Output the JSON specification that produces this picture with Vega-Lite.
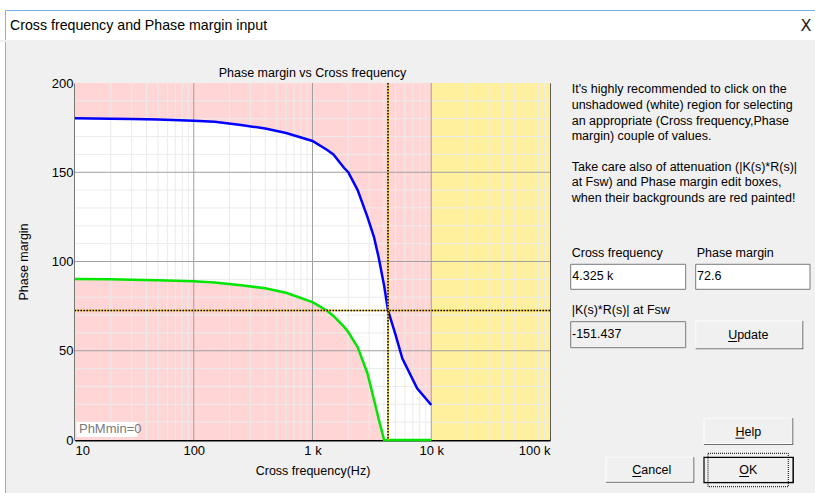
{
  "$schema": "https://vega.github.io/schema/vega-lite/v6.json",
  "background": "#f0f0f0",
  "padding": 0,
  "spacing": 0,
  "config": {
    "view": {"stroke": null},
    "font": "Liberation Sans",
    "text": {"font": "Liberation Sans"}
  },
  "datasets": {
    "curves": [
      {"f": 10, "blue": 180.2, "green": 90.2},
      {"f": 20, "blue": 180.0, "green": 90.0},
      {"f": 30, "blue": 179.8, "green": 89.8},
      {"f": 50, "blue": 179.5, "green": 89.5},
      {"f": 100, "blue": 178.9, "green": 88.9},
      {"f": 150, "blue": 178.3, "green": 88.3},
      {"f": 250, "blue": 176.5, "green": 86.7},
      {"f": 400, "blue": 174.5, "green": 85.0},
      {"f": 600, "blue": 172.0, "green": 82.5},
      {"f": 1000, "blue": 167.5, "green": 77.2},
      {"f": 1330, "blue": 162.5, "green": 72.4},
      {"f": 1500, "blue": 160.0, "green": 69.5},
      {"f": 1840, "blue": 152.5, "green": 63.5},
      {"f": 2000, "blue": 150.0, "green": 60.5},
      {"f": 2400, "blue": 140.0, "green": 52.0},
      {"f": 2900, "blue": 125.0, "green": 37.4},
      {"f": 3300, "blue": 113.5, "green": 22.4},
      {"f": 3600, "blue": 102.5, "green": 12.0},
      {"f": 4010, "blue": 86.5, "green": 0},
      {"f": 4325, "blue": 72.6, "green": 0},
      {"f": 5000, "blue": 59.0, "green": 0},
      {"f": 5700, "blue": 45.8, "green": 0},
      {"f": 7600, "blue": 29.0, "green": 0},
      {"f": 10000, "blue": 19.6, "green": 0}
    ],
    "bands": [
      {"zone": "pink", "x1": 10, "x2": 10000, "y1": 0, "y2": 200},
      {"zone": "yellow", "x1": 10000, "x2": 100000, "y1": 0, "y2": 200}
    ],
    "xgrid": [
      {"v": 20, "kind": "minor"}, {"v": 30, "kind": "minor"}, {"v": 40, "kind": "minor"}, {"v": 50, "kind": "minor"},
      {"v": 60, "kind": "minor"}, {"v": 70, "kind": "minor"}, {"v": 80, "kind": "minor"}, {"v": 90, "kind": "minor"},
      {"v": 200, "kind": "minor"}, {"v": 300, "kind": "minor"}, {"v": 400, "kind": "minor"}, {"v": 500, "kind": "minor"},
      {"v": 600, "kind": "minor"}, {"v": 700, "kind": "minor"}, {"v": 800, "kind": "minor"}, {"v": 900, "kind": "minor"},
      {"v": 2000, "kind": "minor"}, {"v": 3000, "kind": "minor"}, {"v": 4000, "kind": "minor"}, {"v": 5000, "kind": "minor"},
      {"v": 6000, "kind": "minor"}, {"v": 7000, "kind": "minor"}, {"v": 8000, "kind": "minor"}, {"v": 9000, "kind": "minor"},
      {"v": 20000, "kind": "minor"}, {"v": 30000, "kind": "minor"}, {"v": 40000, "kind": "minor"}, {"v": 50000, "kind": "minor"},
      {"v": 60000, "kind": "minor"}, {"v": 70000, "kind": "minor"}, {"v": 80000, "kind": "minor"}, {"v": 90000, "kind": "minor"},
      {"v": 100, "kind": "major"}, {"v": 1000, "kind": "major"}, {"v": 10000, "kind": "major"}
    ],
    "ygrid": [
      {"v": 10, "kind": "minor"}, {"v": 20, "kind": "minor"}, {"v": 30, "kind": "minor"}, {"v": 40, "kind": "minor"},
      {"v": 60, "kind": "minor"}, {"v": 70, "kind": "minor"}, {"v": 80, "kind": "minor"}, {"v": 90, "kind": "minor"},
      {"v": 110, "kind": "minor"}, {"v": 120, "kind": "minor"}, {"v": 130, "kind": "minor"}, {"v": 140, "kind": "minor"},
      {"v": 160, "kind": "minor"}, {"v": 170, "kind": "minor"}, {"v": 180, "kind": "minor"}, {"v": 190, "kind": "minor"},
      {"v": 50, "kind": "major"}, {"v": 100, "kind": "major"}, {"v": 150, "kind": "major"}
    ],
    "cross": [{"f": 4325, "pm": 72.6}],
    "widgets": [
      {"id": "box1", "kind": "edit", "x1": 8.7, "x2": 123.7, "y1": 181.3, "y2": 206.3},
      {"id": "box2", "kind": "edit", "x1": 133.7, "x2": 248, "y1": 181.3, "y2": 206.3},
      {"id": "box3", "kind": "readonly", "x1": 8.7, "x2": 123.7, "y1": 238.7, "y2": 264.7},
      {"id": "update", "kind": "button", "x1": 133.7, "x2": 241.3, "y1": 238, "y2": 266.3},
      {"id": "help", "kind": "button", "x1": 142, "x2": 231.3, "y1": 335.3, "y2": 362},
      {"id": "cancel", "kind": "button", "x1": 44, "x2": 132.3, "y1": 374.3, "y2": 399.7},
      {"id": "ok", "kind": "default", "x1": 142, "x2": 231.3, "y1": 374.3, "y2": 399.7}
    ],
    "underlines": [
      {"u1": 166.2, "u2": 175.2, "row": 258.5},
      {"u1": 173.4, "u2": 182.4, "row": 355.2},
      {"u1": 70.3, "u2": 79.3, "row": 393.5},
      {"u1": 177.3, "u2": 187.0, "row": 393.5}
    ],
    "paneltext": [
      {"t": "It's highly recommended to click on the", "kind": "left", "col": 9.7, "row": 6.3},
      {"t": "unshadowed (white) region for selecting", "kind": "left", "col": 9.7, "row": 22.0},
      {"t": "an appropriate (Cross frequency,Phase", "kind": "left", "col": 9.7, "row": 38.0},
      {"t": "margin) couple of values.", "kind": "left", "col": 9.7, "row": 53.3},
      {"t": "Take care also of attenuation (|K(s)*R(s)|", "kind": "left", "col": 9.7, "row": 83.7},
      {"t": "at Fsw) and Phase margin edit boxes,", "kind": "left", "col": 9.7, "row": 99.0},
      {"t": "when their backgrounds are red painted!", "kind": "left", "col": 9.7, "row": 114.7},
      {"t": "Cross frequency", "kind": "left", "col": 9.7, "row": 170.3},
      {"t": "Phase margin", "kind": "left", "col": 134.7, "row": 170.3},
      {"t": "4.325 k", "kind": "left", "col": 10.3, "row": 192.5},
      {"t": "72.6", "kind": "left", "col": 135.0, "row": 192.5},
      {"t": "|K(s)*R(s)| at Fsw", "kind": "left", "col": 9.7, "row": 227.0},
      {"t": "-151.437", "kind": "left", "col": 10.0, "row": 250.5},
      {"t": "Update", "kind": "center", "col": 186.3, "row": 252.0},
      {"t": "Help", "kind": "center", "col": 186.3, "row": 348.7},
      {"t": "Cancel", "kind": "center", "col": 89.7, "row": 387.0},
      {"t": "OK", "kind": "center", "col": 186.3, "row": 387.0}
    ]
  },
  "vconcat": [
    {
      "width": 815,
      "height": 40,
      "view": {"fill": "#ffffff", "stroke": null},
      "layer": [
        {
          "data": {"values": [{"t": "Cross frequency and Phase margin input", "col": 10, "row": 25.5}]},
          "mark": {"type": "text", "align": "left", "baseline": "middle", "fontSize": 14.2, "color": "#000000"},
          "encoding": {
            "x": {"field": "col", "type": "quantitative", "scale": {"domain": [0, 815], "nice": false, "zero": false}, "axis": null},
            "y": {"field": "row", "type": "quantitative", "scale": {"domain": [0, 40], "nice": false, "zero": false, "reverse": true}, "axis": null},
            "text": {"field": "t"}
          }
        },
        {
          "data": {"values": [{"t": "X", "col": 806, "row": 25.5}]},
          "mark": {"type": "text", "align": "center", "baseline": "middle", "fontSize": 16, "color": "#222222", "font": "DejaVu Sans"},
          "encoding": {
            "x": {"field": "col", "type": "quantitative", "axis": null},
            "y": {"field": "row", "type": "quantitative", "axis": null},
            "text": {"field": "t"}
          }
        },
        {
          "data": {"values": [{"a": 5.5, "b": 815, "r": 10.5}]},
          "mark": {"type": "rule", "color": "#7ab4e6", "strokeWidth": 1},
          "encoding": {
            "x": {"field": "a", "type": "quantitative", "axis": null},
            "x2": {"field": "b"},
            "y": {"field": "r", "type": "quantitative", "axis": null}
          }
        },
        {
          "data": {"values": [{"a": 5.5, "r1": 10.5, "r2": 40}]},
          "mark": {"type": "rule", "color": "#7ab4e6", "strokeWidth": 1},
          "encoding": {
            "x": {"field": "a", "type": "quantitative", "axis": null},
            "y": {"field": "r1", "type": "quantitative", "axis": null},
            "y2": {"field": "r2"}
          }
        }
      ]
    },
    {
      "spacing": 10,
      "hconcat": [
        {
          "width": 6,
          "height": 410,
          "layer": [
            {
              "data": {"values": [{"a": 0, "b": 5, "top": -41, "bot": 410}]},
              "mark": {"type": "rect", "color": "#ffffff"},
              "encoding": {
                "x": {"field": "a", "type": "quantitative", "scale": {"domain": [0, 6], "nice": false, "zero": false}, "axis": null},
                "x2": {"field": "b"},
                "y": {"field": "top", "type": "quantitative", "scale": {"domain": [0, 410], "nice": false, "zero": false, "reverse": true}, "axis": null},
                "y2": {"field": "bot"}
              }
            },
            {
              "data": {"values": [{"a": 5.5, "top": -41, "bot": 410}]},
              "mark": {"type": "rule", "color": "#7ab4e6", "strokeWidth": 1},
              "encoding": {
                "x": {"field": "a", "type": "quantitative", "axis": null},
                "y": {"field": "top", "type": "quantitative", "axis": null},
                "y2": {"field": "bot"}
              }
            }
          ]
        },
        {
          "width": 475,
          "height": 357,
          "view": {"stroke": "#5a5a5a", "strokeWidth": 1},
          "title": {
            "text": "Phase margin vs Cross frequency",
            "fontSize": 12.5,
            "fontWeight": "normal",
            "font": "Liberation Sans",
            "color": "#000000",
            "anchor": "middle",
            "baseline": "bottom",
            "offset": -15
          },
          "layer": [
            {
              "data": {"name": "bands"},
              "mark": {"type": "rect"},
              "encoding": {
                "x": {
                  "field": "x1", "type": "quantitative",
                  "scale": {"type": "log", "domain": [10, 100000], "nice": false},
                  "axis": {
                    "title": "Cross frequency(Hz)",
                    "values": [10, 100, 1000, 10000, 100000],
                    "labelExpr": "datum.value >= 1000 ? (datum.value / 1000) + ' k' : '' + datum.value",
                    "labelFlush": true,
                    "ticks": false,
                    "grid": false,
                    "domainColor": "#000000",
                    "domainWidth": 2,
                    "labelPadding": 4,
                    "labelFontSize": 13,
                    "labelColor": "#000000",
                    "labelFont": "Liberation Sans",
                    "titleFontSize": 12.5,
                    "titleFontWeight": "normal",
                    "titleColor": "#000000",
                    "titleFont": "Liberation Sans",
                    "titlePadding": 7
                  }
                },
                "x2": {"field": "x2"},
                "y": {
                  "field": "y1", "type": "quantitative",
                  "scale": {"domain": [0, 200], "nice": false},
                  "axis": {
                    "title": "Phase margin",
                    "values": [0, 50, 100, 150, 200],
                    "ticks": false,
                    "grid": false,
                    "domainColor": "#000000",
                    "domainWidth": 2,
                    "labelPadding": 2,
                    "labelFontSize": 13,
                    "labelColor": "#000000",
                    "labelFont": "Liberation Sans",
                    "minExtent": 23,
                    "maxExtent": 23,
                    "titleFontSize": 12.5,
                    "titleFontWeight": "normal",
                    "titleColor": "#000000",
                    "titleFont": "Liberation Sans",
                    "titlePadding": 22
                  }
                },
                "y2": {"field": "y2"},
                "color": {
                  "field": "zone", "type": "nominal",
                  "scale": {"domain": ["pink", "yellow"], "range": ["#ffd5d5", "#fff09e"]},
                  "legend": null
                }
              }
            },
            {
              "data": {"name": "curves"},
              "mark": {"type": "area", "color": "#ffffff", "opacity": 1},
              "encoding": {
                "x": {"field": "f", "type": "quantitative"},
                "y": {"field": "blue", "type": "quantitative"},
                "y2": {"field": "green"}
              }
            },
            {
              "data": {"name": "xgrid"},
              "transform": [{"filter": "datum.kind == 'minor'"}],
              "mark": {"type": "rule", "color": "#ebebeb", "strokeWidth": 1},
              "encoding": {"x": {"field": "v", "type": "quantitative"}}
            },
            {
              "data": {"name": "ygrid"},
              "transform": [{"filter": "datum.kind == 'minor'"}],
              "mark": {"type": "rule", "color": "#ebebeb", "strokeWidth": 1},
              "encoding": {"y": {"field": "v", "type": "quantitative"}}
            },
            {
              "data": {"name": "xgrid"},
              "transform": [{"filter": "datum.kind == 'major'"}],
              "mark": {"type": "rule", "color": "#a0a0a0", "strokeWidth": 1},
              "encoding": {"x": {"field": "v", "type": "quantitative"}}
            },
            {
              "data": {"name": "ygrid"},
              "transform": [{"filter": "datum.kind == 'major'"}],
              "mark": {"type": "rule", "color": "#a0a0a0", "strokeWidth": 1},
              "encoding": {"y": {"field": "v", "type": "quantitative"}}
            },
            {
              "data": {"name": "curves"},
              "mark": {"type": "line", "color": "#0000ff", "strokeWidth": 2.5},
              "encoding": {
                "x": {"field": "f", "type": "quantitative"},
                "y": {"field": "blue", "type": "quantitative"}
              }
            },
            {
              "data": {"name": "curves"},
              "mark": {"type": "line", "color": "#00e600", "strokeWidth": 2.5},
              "encoding": {
                "x": {"field": "f", "type": "quantitative"},
                "y": {"field": "green", "type": "quantitative"}
              }
            },
            {
              "data": {"name": "cross"},
              "mark": {"type": "rule", "color": "#f0c000", "strokeWidth": 1.5},
              "encoding": {"y": {"field": "pm", "type": "quantitative"}}
            },
            {
              "data": {"name": "cross"},
              "mark": {"type": "rule", "color": "#f0c000", "strokeWidth": 1.5},
              "encoding": {"x": {"field": "f", "type": "quantitative"}}
            },
            {
              "data": {"name": "cross"},
              "mark": {"type": "rule", "color": "#000000", "strokeWidth": 1.5, "strokeDash": [1.5, 1.5]},
              "encoding": {"y": {"field": "pm", "type": "quantitative"}}
            },
            {
              "data": {"name": "cross"},
              "mark": {"type": "rule", "color": "#000000", "strokeWidth": 1.5, "strokeDash": [1.5, 1.5]},
              "encoding": {"x": {"field": "f", "type": "quantitative"}}
            },
            {
              "data": {"values": [{"a": 10.3, "b": 33.7, "lo": 1.7, "hi": 10.1}]},
              "mark": {"type": "rect", "color": "#ffffff"},
              "encoding": {
                "x": {"field": "a", "type": "quantitative"},
                "x2": {"field": "b"},
                "y": {"field": "lo", "type": "quantitative"},
                "y2": {"field": "hi"}
              }
            },
            {
              "data": {"values": [{"t": "PhMmin=0", "a": 10.8, "m": 6.0}]},
              "mark": {"type": "text", "align": "left", "baseline": "middle", "fontSize": 13, "color": "#7a7a7a"},
              "encoding": {
                "x": {"field": "a", "type": "quantitative"},
                "y": {"field": "m", "type": "quantitative"},
                "text": {"field": "t"}
              }
            }
          ]
        },
        {
          "width": 253,
          "height": 402,
          "layer": [
            {
              "data": {"name": "widgets"},
              "transform": [{"filter": "datum.kind == 'edit'"}],
              "mark": {"type": "rect", "fill": "#ffffff", "stroke": "#7a7a7a", "strokeWidth": 1},
              "encoding": {
                "x": {"field": "x1", "type": "quantitative", "scale": {"domain": [0, 253], "nice": false, "zero": false}, "axis": null},
                "x2": {"field": "x2"},
                "y": {"field": "y1", "type": "quantitative", "scale": {"domain": [0, 402], "nice": false, "zero": false, "reverse": true}, "axis": null},
                "y2": {"field": "y2"}
              }
            },
            {
              "data": {"name": "widgets"},
              "transform": [{"filter": "datum.kind == 'readonly'"}],
              "mark": {"type": "rect", "fill": "#f0f0f0", "stroke": "#7a7a7a", "strokeWidth": 1},
              "encoding": {
                "x": {"field": "x1", "type": "quantitative", "axis": null},
                "x2": {"field": "x2"},
                "y": {"field": "y1", "type": "quantitative", "axis": null},
                "y2": {"field": "y2"}
              }
            },
            {
              "data": {"name": "widgets"},
              "transform": [{"filter": "datum.kind == 'button' || datum.kind == 'default'"}],
              "mark": {"type": "rect", "fill": "#6e6e6e"},
              "encoding": {
                "x": {"field": "x1", "type": "quantitative", "axis": null},
                "x2": {"field": "x2"},
                "y": {"field": "y1", "type": "quantitative", "axis": null},
                "y2": {"field": "y2"}
              }
            },
            {
              "data": {"name": "widgets"},
              "transform": [{"filter": "datum.kind == 'button' || datum.kind == 'default'"}],
              "mark": {"type": "rect", "fill": "#f0f0f0", "stroke": "#ffffff", "strokeWidth": 1, "x2Offset": -1.5, "y2Offset": -1.5},
              "encoding": {
                "x": {"field": "x1", "type": "quantitative", "axis": null},
                "x2": {"field": "x2"},
                "y": {"field": "y1", "type": "quantitative", "axis": null},
                "y2": {"field": "y2"}
              }
            },
            {
              "data": {"name": "widgets"},
              "transform": [{"filter": "datum.kind == 'default'"}],
              "mark": {"type": "rect", "fillOpacity": 0, "stroke": "#000000", "strokeWidth": 1.2},
              "encoding": {
                "x": {"field": "x1", "type": "quantitative", "axis": null},
                "x2": {"field": "x2"},
                "y": {"field": "y1", "type": "quantitative", "axis": null},
                "y2": {"field": "y2"}
              }
            },
            {
              "data": {"name": "widgets"},
              "transform": [{"filter": "datum.kind == 'default'"}],
              "mark": {"type": "rect", "fillOpacity": 0, "stroke": "#000000", "strokeWidth": 1, "strokeDash": [1, 1], "xOffset": 4, "x2Offset": -5, "yOffset": -4, "y2Offset": 4},
              "encoding": {
                "x": {"field": "x1", "type": "quantitative", "axis": null},
                "x2": {"field": "x2"},
                "y": {"field": "y1", "type": "quantitative", "axis": null},
                "y2": {"field": "y2"}
              }
            },
            {
              "data": {"name": "underlines"},
              "mark": {"type": "rule", "color": "#000000", "strokeWidth": 1},
              "encoding": {
                "x": {"field": "u1", "type": "quantitative", "axis": null},
                "x2": {"field": "u2"},
                "y": {"field": "row", "type": "quantitative", "axis": null}
              }
            },
            {
              "data": {"name": "paneltext"},
              "transform": [{"filter": "datum.kind == 'left'"}],
              "mark": {"type": "text", "align": "left", "baseline": "middle", "fontSize": 12.5, "color": "#000000"},
              "encoding": {
                "x": {"field": "col", "type": "quantitative", "axis": null},
                "y": {"field": "row", "type": "quantitative", "axis": null},
                "text": {"field": "t"}
              }
            },
            {
              "data": {"name": "paneltext"},
              "transform": [{"filter": "datum.kind == 'center'"}],
              "mark": {"type": "text", "align": "center", "baseline": "middle", "fontSize": 12.5, "color": "#000000"},
              "encoding": {
                "x": {"field": "col", "type": "quantitative", "axis": null},
                "y": {"field": "row", "type": "quantitative", "axis": null},
                "text": {"field": "t"}
              }
            }
          ]
        }
      ]
    }
  ]
}
